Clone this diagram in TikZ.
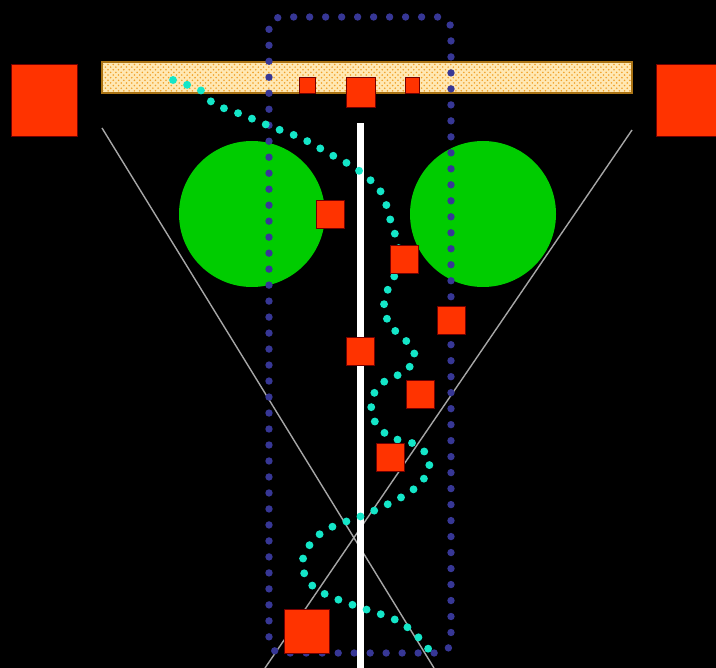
\documentclass[tikz,border=0pt]{standalone}
\usepackage{tikz}
\usetikzlibrary{patterns}
\definecolor{sqred}{RGB}{255,51,0}
\definecolor{discgreen}{RGB}{0,204,0}
\definecolor{dotblue}{RGB}{55,55,150}
\definecolor{dotcyan}{RGB}{20,230,200}
\definecolor{barfill}{RGB}{255,232,180}
\definecolor{bardots}{RGB}{240,160,40}
\definecolor{baredge}{RGB}{170,115,20}

\begin{document}
\begin{tikzpicture}[x=0.02cm,y=-0.02cm,
    redsq/.style={fill=sqred,draw=black!55!red,line width=0.5pt},
    ray/.style={draw=gray!70,line width=0.8pt},
    bluedots/.style={draw=dotblue,line width=4.2pt,line cap=round,dash pattern=on 0pt off 9.1pt},
    cyandots/.style={draw=dotcyan,line width=4.5pt,line cap=round,dash pattern=on 0pt off 8.5pt}]
      \fill[black] (0,0) rectangle (716,668);
      \useasboundingbox (0,0) rectangle (716,668);
      % outer blocks
      \fill[redsq] (11,64) rectangle (77,136);
      \fill[redsq] (656,64) rectangle (720,136);
      % crossing rays
      \draw[ray] (102,128) -- (434,668);
      \draw[ray] (632,130) -- (265,668);
      % discs
      \fill[discgreen] (252,214) circle (73);
      \fill[discgreen] (483,214) circle (73);
      % textured bar
      \fill[barfill] (102,62) rectangle (632,93);
      \fill[pattern=crosshatch dots,pattern color=bardots] (102,62) rectangle (632,93);
      \draw[baredge,line width=0.9pt] (102,62) rectangle (632,93);
      % dotted frame
      \draw[bluedots,rounded corners=7pt] (269,17) rectangle (451,653);
      % white rod
      \fill[white] (357,123) rectangle (364,668);
      % helix
      \draw[cyandots] plot[smooth,tension=0.55] coordinates {(173,80) (202,91) (214,104) (243,115) (272,127)
        (301,138) (330,154) (358,170) (381,192) (391,222) (398,245) (400,265) (390,284) (384,305)
        (390,325) (408,343) (415,358) (404,372) (385,381) (372,398) (374,420) (390,437) (412,443)
        (427,455) (428,472) (410,492) (369,513) (324,531) (304,555) (306,578) (323,593) (353,605)
        (398,621) (422,641) (432,655)};
      % blocks on the bar
      \draw[redsq] (299,77) rectangle (315,93);
      \draw[redsq] (346,77) rectangle (375,107);
      \draw[redsq] (405,77) rectangle (419,93);
      % blocks along the rod
      \foreach \cx/\cy in {330/214, 404/259, 451/320, 360/351, 420/394, 390/457}
        \draw[redsq] (\cx-14,\cy-14) rectangle (\cx+14,\cy+14);
      \draw[redsq] (284,609) rectangle (329,653);
\end{tikzpicture}
\end{document}
